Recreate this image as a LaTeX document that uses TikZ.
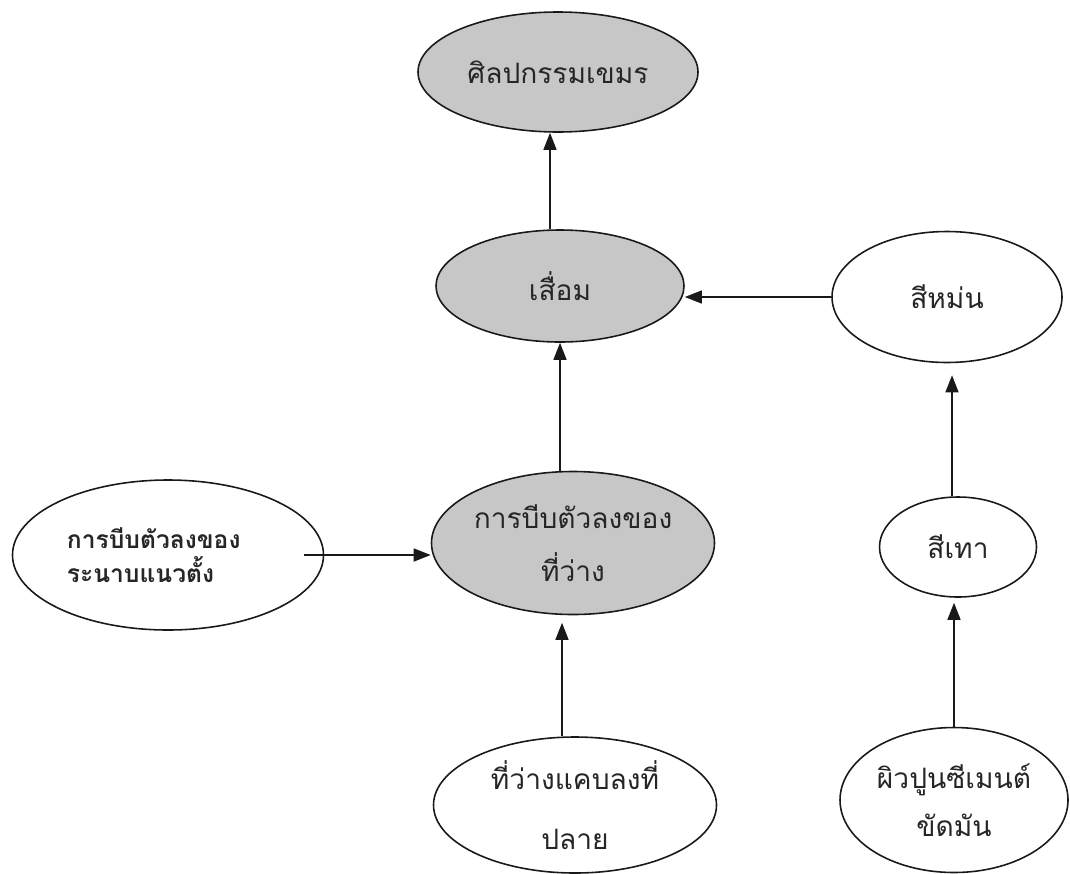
\documentclass[tikz,border=0pt]{standalone}
\usepackage{fontspec}
\newfontfamily\thaifont[Script=Thai]{Loma}
\usepackage{tikz}
\usetikzlibrary{positioning,arrows.meta,shapes.geometric,calc}

\begin{document}
\begin{tikzpicture}[
  every node/.style={font=\thaifont\fontsize{16}{25}\selectfont, text=black!85},
  oval/.style={ellipse, draw=black!90, line width=0.9pt, inner sep=0pt, align=center, fill=white},
  goval/.style={oval, fill=black!22},
  arr/.style={-{Triangle[length=0.34cm, width=0.26cm]}, draw=black!90, line width=0.8pt}
]
\useasboundingbox (0,0) rectangle (21.4,-17.46);

%% middle column -- shaded ovals
\node[goval, minimum width=5.6cm, minimum height=2.4cm] (khmer) at (11.16,-1.44) {ศิลปกรรมเขมร};
\node[goval, minimum width=4.96cm, minimum height=2.24cm] (decline) at (11.2,-5.72) {เสื่อม};
\node[goval, minimum width=5.66cm, minimum height=2.86cm] (squeeze) at (11.46,-10.86) {การบีบตัวลงของ\\[5pt]ที่ว่าง};
\node[oval, minimum width=5.66cm, minimum height=2.72cm] (narrow) at (11.5,-16.1) {ที่ว่างแคบลงที่\\[9pt]ปลาย};

%% left oval
\node[oval, minimum width=6.22cm, minimum height=3.0cm, align=left,
  font=\thaifont\bfseries\fontsize{14}{19}\selectfont] (vertical) at (3.36,-11.1) {การบีบตัวลงของ\\ระนาบแนวตั้ง\hspace*{1.1cm}};

%% right column
\node[oval, minimum width=4.6cm, minimum height=2.62cm] (dull) at (18.94,-5.94) {สีหม่น};
\node[oval, minimum width=3.14cm, minimum height=2.0cm] (grey) at (19.16,-10.94) {สีเทา};
\node[oval, minimum width=4.56cm, minimum height=2.9cm] (cement) at (19.08,-16.0) {ผิวปูนซีเมนต์\\[2pt]ขัดมัน};

%% connectors
\draw[arr] ([xshift=-2mm]decline.north) -- ([xshift=-2mm]decline.north |- khmer.south);
\draw[arr] (dull.west) -- (dull.west -| decline.east);
\draw[arr] (decline.south |- squeeze.north) -- (decline.south);
\draw[arr] ([xshift=-4mm]vertical.east) -- (vertical.east -| squeeze.west);
\draw[arr, shorten >=1.5mm] ([xshift=-2.6mm]narrow.north) -- ([xshift=-2.6mm]narrow.north |- squeeze.south);
\draw[arr, shorten >=2.4mm] ([xshift=-1.2mm]grey.north) -- ([xshift=-1.2mm]grey.north |- dull.south);
\draw[arr, shorten >=1mm] (cement.north) -- (cement.north |- grey.south);
\end{tikzpicture}
\end{document}
